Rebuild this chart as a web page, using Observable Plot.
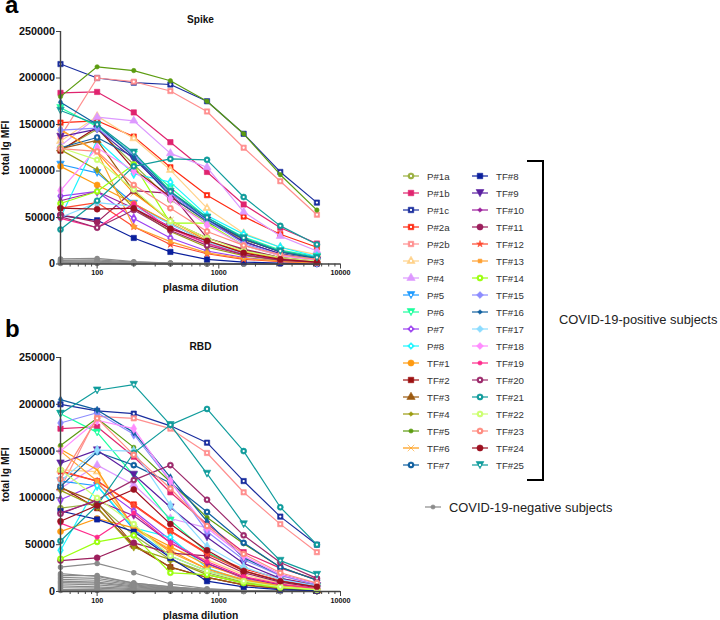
<!DOCTYPE html>
<html><head><meta charset="utf-8">
<script src="https://cdn.jsdelivr.net/npm/d3@7"></script>
<script src="https://cdn.jsdelivr.net/npm/@observablehq/plot@0.6"></script>
<style>
html,body{margin:0;padding:0;background:#fff;width:720px;height:620px;overflow:hidden;font-family:"Liberation Sans",Arial,sans-serif}
.abs{position:absolute}
.letter{font-weight:700;font-size:24px;line-height:24px;color:#000}
.leg{display:flex;align-items:center;height:17px;font-size:9.7px;color:#333}
.leg svg{margin-right:8px}
g[aria-label="x-axis tick label"] text{font-size:7.2px!important;font-weight:700}
g[aria-label="y-axis tick label"] text{font-size:10.8px!important;font-weight:700}
g[aria-label="x-axis label"] text,g[aria-label="y-axis label"] text{font-size:10.3px!important;font-weight:700}
</style></head><body>
<div class="abs letter" style="left:5px;top:0;line-height:10px">a</div>
<div class="abs letter" style="left:5px;top:317px">b</div>
<div id="a" class="abs" style="left:0;top:0"></div>
<div id="b" class="abs" style="left:0;top:310px"></div>
<div id="legend" class="abs" style="left:403px;top:167.5px;width:130px;display:grid;grid-template-rows:repeat(18,17px);grid-auto-flow:column;grid-template-columns:69px 69px"></div>
<div class="abs" style="left:527px;top:160px;width:15px;height:317px;border:2px solid #000;border-left:none"></div>
<div class="abs" style="left:559px;top:312px;font-size:12.9px;color:#222;white-space:nowrap">COVID-19-positive subjects</div>
<div id="neg" class="abs" style="left:425px;top:498px;display:flex;align-items:center;height:18px;font-size:12.9px;color:#222;white-space:nowrap"></div>
<script>
const dilutions = [50,100,200,400,800,1600,3200,6400];
const seriesNames = ["P#1a","P#1b","P#1c","P#2a","P#2b","P#3","P#4","P#5","P#6","P#7","P#8","TF#1","TF#2","TF#3","TF#4","TF#5","TF#6","TF#7","TF#8","TF#9","TF#10","TF#11","TF#12","TF#13","TF#14","TF#15","TF#16","TF#17","TF#18","TF#19","TF#20","TF#21","TF#22","TF#23","TF#24","TF#25"];
const seriesColors = ["#9AB040","#E0246F","#1A2E9E","#FF2A12","#FF8F8F","#FFD28A","#DD99FF","#1E9BFF","#1CFF9E","#9B3FF0","#1CF5FF","#FF9A10","#9C1010","#9C5A10","#9C9C10","#5C9C10","#FF9A10","#1060A0","#0A1F9C","#5A1FA0","#9C1F9C","#9C1F5C","#FF4A30","#FFA030","#9CFF10","#8C8CFF","#1060A0","#8CDCFF","#FF8CFF","#FF2A8C","#9C2A6C","#109C9C","#CCFF70","#FF8C80","#9C1020","#109C9C"];
const seriesSymbols = ["circle","square","square","square","square","triangle","triangle","down","down","diamond","diamond","circle","square","triangle","diamond","circle","times","circle","square","down","diamond","circle","star","square","circle","diamond","diamond","diamond","diamond","circle","circle","circle","circle","circle","circle","down"];
const seriesCentred = ["P#1a","P#1c","P#2a","P#2b","P#3","P#5","P#6","P#7","P#8","TF#7","TF#14","TF#20","TF#21","TF#22","TF#23","TF#25"];
const smallMarkers = ["TF#4","TF#5","TF#10","TF#12","TF#13","TF#19","TF#16"];
const spikeK = [
[122,145,107,69,45,26,14,6],[184,185,163,131,99,64,39,22],[215,200,195,193,175,140,99,66],[152,154,137,104,74,51,32,18],[137,200,196,186,164,125,89,53],
[132,159,135,101,60,33,18,10],[127,158,154,119,104,56,30,14],[107,98,65,43,24,11,5,2.5],[168,148,118,82,50,29,15,8],[73,78,49,28,14,7,3,1.5],[50,133,97,88,52,32,18,8],
[105,85,65,44,24,12,5,2],[122,147,102,72,47,27,13,6],[124,133,78,46,28,15,7,3],[123,101,60,35,18,9,4,2],[180,212,208,197,175,140,96,58],[145,120,76,47,25,13,6,3],[125,136,115,73,46,24,11,5],
[52,47,28,13,5,2,1,0.5],[137,145,113,76,47,24,11,4],[68,78,60,40,22,11,5,2],[53,45,79,76,28,16,7,3],[60,66,40,21,11,5,2.5,1],[144,121,40,24,12,6,3,1],[65,78,107,44,44,20,9,5],
[144,146,118,76,47,22,10,4],[174,150,115,78,48,27,13,6],[50,66,62,43,24,11,5,2],[79,125,100,70,42,20,9,4],[49,39,65,38,22,10,5,2],[51,39,58,36,20,10,4,2],[37,68,105,113,112,72,41,21],
[125,112,80,46,28,14,7,3],[124,121,85,60,35,20,10,5],[60,59,60,38,25,12,5,2],[165,150,120,78,50,28,14,7]];
const rbdK = [
[89,94,60,34,20,10,5,2],[174,176,144,106,72,42,25,13],[200,193,190,177,159,118,80,50],[129,118,93,65,41,24,14,7],[110,187,185,174,148,106,72,42],
[130,128,66,46,34,18,9,4],[110,135,114,78,68,37,18,8],[118,113,66,38,22,12,6,3],[190,170,124,76,42,22,11,5],[98,115,86,55,30,14,7,3],[44,113,68,58,25,12,6,3],
[64,78,68,48,28,15,7,3],[112,89,49,26,15,7,3,1],[111,95,50,26,15,7,3,1],[108,90,47,34,18,9,4,2],[156,185,154,117,79,51,26,12],[152,130,68,44,24,12,6,3],[112,149,135,116,85,52,26,12],
[86,77,64,36,11,5,2,1],[137,151,125,90,58,30,14,6],[84,97,81,52,30,15,7,3],[33,36,52,41,38,20,10,4],[128,118,92,64,40,22,12,5],[150,118,70,42,24,13,6,3],[35,53,60,20,18,9,4,2],
[180,191,168,118,64,34,17,7],[205,194,170,122,75,36,18,8],[118,151,150,92,48,26,13,6],[150,183,174,118,68,38,18,8],[73,58,84,52,32,16,8,3],[83,98,119,135,98,60,31,14],[54,92,148,178,195,150,90,50],
[130,100,72,38,22,11,5,2],[120,185,146,110,70,40,20,9],[75,92,109,72,44,22,11,5],[190,215,221,178,126,72,33,18]];
const spikeNegK = [[5.5,6,2.5,1,0.6,0.3,0.1,0],[4,4.5,2,1,0.5,0.2,0.1,0],[3,3,1.5,0.8,0.4,0.2,0.1,0],[2,2,1,0.6,0.3,0.1,0,0],[1.5,1.5,0.8,0.4,0.2,0.1,0,0],[1,1,0.5,0.3,0.1,0,0,0],[0.6,0.6,0.3,0.2,0.1,0,0,0]];
const rbdNegK = [[26,30,20,8,3,1,0.5,0.2],[19,16,9,5,2,1,0.4,0.2],[17,17,9,5,2,1,0.4,0.1],[15,14,8,4,2,0.8,0.3,0.1],[13,12,7,3.5,1.5,0.7,0.3,0.1],[11,10,6,3,1.2,0.6,0.2,0.1],[9.5,9,5,2.5,1,0.5,0.2,0.1],[8,7,4,2,0.8,0.4,0.2,0],[6,5,3,1.5,0.6,0.3,0.1,0],[4,3.5,2,1,0.5,0.2,0.1,0],[2,2,1,0.5,0.2,0.1,0,0],[1,1,0.5,0.3,0.1,0,0,0]];
const yTicks = [0,50000,100000,150000,200000,250000];
const xMajor = [100,1000,10000];
const xMinor = [60,70,80,90,200,300,400,500,600,700,800,900,2000,3000,4000,5000,6000,7000,8000,9000];
const grey = "#8a8a8a";

const downTriangle = {draw(ctx,size){const h=Math.sqrt(size*1.3),w=h*0.62;ctx.moveTo(-w,-h*0.55);ctx.lineTo(w,-h*0.55);ctx.lineTo(0,h*0.6);ctx.closePath();}};
function symbolOf(i){const s=seriesSymbols[i];return s==="down"?downTriangle:s;}
const rows = (vals,i)=>vals.map((v,j)=>({x:dilutions[j],y:v*1000,s:i}));

function panel(id,title,vals,negVals,marginTop,titleDy,height){
  const marks=[];
  negVals.forEach((v,i)=>{const d=rows(v,i);
    marks.push(Plot.line(d,{x:"x",y:"y",stroke:grey,strokeWidth:1.2}));
    marks.push(Plot.dot(d,{x:"x",y:"y",fill:grey,stroke:grey,r:2}));
  });
  vals.forEach((v,i)=>{const d=rows(v,i),c=seriesColors[i],n=seriesNames[i];
    marks.push(Plot.line(d,{x:"x",y:"y",stroke:c,strokeWidth:1.2}));
    marks.push(Plot.dot(d,{x:"x",y:"y",symbol:symbolOf(i),r:smallMarkers.includes(n)?2.2:3,
      fill:seriesSymbols[i]==="times"?"none":c,stroke:c,strokeWidth:0.6}));
    if(seriesCentred.includes(n)) marks.push(Plot.dot(d,{x:"x",y:"y",symbol:"circle",r:1.15,fill:"white"}));
  });
  marks.push(Plot.ruleX([50],{stroke:"#444",strokeWidth:1.4}));
  marks.push(Plot.ruleY([0],{stroke:"#444",strokeWidth:1.4}));
  marks.push(Plot.axisY({ticks:yTicks,tickSize:4,tickPadding:1.5,tickFormat:d=>String(d),stroke:"#444",label:"total Ig MFI",labelAnchor:"center",labelArrow:"none",labelOffset:59}));
  marks.push(Plot.axisX({ticks:xMinor,tickSize:3,tickFormat:()=>"",stroke:"#444",label:null}));
  marks.push(Plot.axisX({ticks:xMajor,tickSize:5,tickPadding:1,tickFormat:d=>String(d),stroke:"#444",label:"plasma dilution",labelAnchor:"center",labelArrow:"none",labelOffset:27}));
  marks.push(Plot.text([title],{frameAnchor:"top",dy:titleDy,fontSize:10.1,fontWeight:700,fill:"#111"}));
  const fig=Plot.plot({width:360,height,marginLeft:60,marginRight:20,marginTop,marginBottom:height-marginTop-(id==="a"?232.5:234),
    style:{fontFamily:"'Liberation Sans',Arial,sans-serif",fontSize:"10px",color:"#111",background:"transparent",overflow:"visible"},
    x:{type:"log",domain:[50,10000]},y:{domain:[0,250000]},marks});
  document.getElementById(id).appendChild(fig);
}
panel("a","Spike",spikeK,spikeNegK,31,-16,300);
panel("b","RBD",rbdK,rbdNegK,47,-15,310);

const NS="http://www.w3.org/2000/svg";
function swatch(color,symName,centred,small){
  const s=d3.select(document.createElementNS(NS,"svg")).attr("width",16).attr("height",10).attr("viewBox","-8 -5 16 10");
  s.append("line").attr("x1",-8).attr("x2",8).attr("stroke",color).attr("stroke-width",1.2);
  const map={circle:d3.symbolCircle,square:d3.symbolSquare,triangle:d3.symbolTriangle,diamond:d3.symbolDiamond2,times:d3.symbolTimes,star:d3.symbolStar,down:downTriangle};
  const area=small?14:30;
  s.append("path").attr("d",d3.symbol(map[symName],area)()).attr("fill",symName==="times"?"none":color).attr("stroke",color).attr("stroke-width",0.6);
  if(centred) s.append("circle").attr("r",1.15).attr("fill","white");
  return s.node();
}
const legend=document.getElementById("legend");
seriesNames.forEach((n,i)=>{
  const row=document.createElement("div");row.className="leg";
  row.appendChild(swatch(seriesColors[i],seriesSymbols[i],seriesCentred.includes(n),smallMarkers.includes(n)));
  const t=document.createElement("span");t.textContent=n;row.appendChild(t);
  legend.appendChild(row);
});
const neg=document.getElementById("neg");
const ns=swatch(grey,"circle",false,true);ns.style.marginRight="8px";neg.appendChild(ns);
const nt=document.createElement("span");nt.textContent="COVID-19-negative subjects";neg.appendChild(nt);
</script>
</body></html>
